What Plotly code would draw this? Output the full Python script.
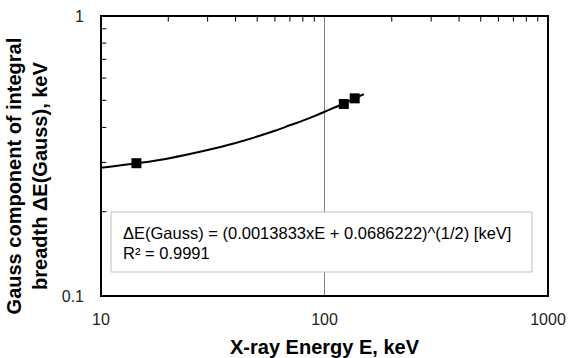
import plotly.graph_objects as go

# Measured points
energy = [14.4, 122.0, 136.5]
delta_e = [0.298, 0.485, 0.508]

# Trend curve
fit_x = [10, 15, 20, 30, 40, 50, 60, 70, 80, 90, 100, 120, 140, 150]
fit_y = [0.287, 0.299, 0.310, 0.332, 0.352, 0.371, 0.389, 0.407, 0.423, 0.439, 0.455, 0.484, 0.512, 0.526]

x_major = [10, 100, 1000]
x_minor = [20, 30, 40, 50, 60, 70, 80, 90, 200, 300, 400, 500, 600, 700, 800, 900]
y_major = [0.1, 1]
y_minor = [0.2, 0.3, 0.4, 0.5, 0.6, 0.7, 0.8, 0.9]

eq_line1 = "ΔE(Gauss) = (0.0013833xE + 0.0686222)^(1/2) [keV]"
eq_line2 = "R² = 0.9991"
y_title = "<b>Gauss component of integral<br>breadth ΔE(Gauss), keV</b>"
x_title = "<b>X-ray Energy E, keV</b>"

fig = go.Figure()
fig.add_trace(go.Scatter(x=fit_x, y=fit_y, mode="lines",
                         line=dict(color="black", width=2, shape="spline"),
                         showlegend=False, hoverinfo="skip"))
fig.add_trace(go.Scatter(x=energy, y=delta_e, mode="markers",
                         marker=dict(symbol="square", size=10, color="black"),
                         showlegend=False))

font = "Liberation Sans, Arial, sans-serif"

shapes = []
# minor tick marks along the top edge (inside)
for v in x_minor:
    shapes.append(dict(type="line", xref="x", yref="y domain", x0=v, x1=v, y0=1.0, y1=0.98,
                       line=dict(color="#000000", width=1), layer="above"))
# minor tick marks along the left edge (inside)
for v in y_minor:
    shapes.append(dict(type="line", xref="x domain", yref="y", x0=0.0, x1=0.012, y0=v, y1=v,
                       line=dict(color="#000000", width=1), layer="above"))
shapes.append(dict(type="rect", xref="paper", yref="paper", x0=0, x1=1, y0=0, y1=1,
                   line=dict(color="black", width=2)))
shapes.append(dict(type="rect", xref="paper", yref="paper", x0=0.0224, x1=0.964, y0=0.0857, y1=0.30,
                   line=dict(color="#bfbfbf", width=1), fillcolor="white", layer="above"))

fig.update_layout(
    width=569, height=358,
    margin=dict(l=101, r=21, t=16, b=62),
    paper_bgcolor="white", plot_bgcolor="white",
    font=dict(family=font, color="black", size=16),
    xaxis=dict(type="log", range=[1, 3], tickvals=x_major, ticktext=[str(v) for v in x_major],
               showgrid=True, gridcolor="#808080", gridwidth=1, ticks="", zeroline=False,
               showline=False, tickfont=dict(size=16, color="#222"), ticklabelstandoff=12,
               automargin=False,
               title=dict(text=x_title, font=dict(size=20), standoff=13)),
    yaxis=dict(type="log", range=[-1, 0], tickvals=y_major, ticktext=["0.1", "1"],
               showgrid=False, ticks="", zeroline=False, showline=False, automargin=False,
               tickfont=dict(size=16, color="#222"), ticklabelstandoff=16),
    shapes=shapes,
    annotations=[
        dict(text=y_title, xref="paper", yref="paper", x=-0.166, y=0.43, xanchor="center",
             yanchor="middle", align="center", textangle=-90, showarrow=False,
             font=dict(size=20, color="black", family=font)),
        dict(text=eq_line1, xref="paper", yref="paper", x=0.045, y=0.225, xanchor="left",
             yanchor="middle", align="left", showarrow=False,
             font=dict(size=16.5, color="black", family=font)),
        dict(text=eq_line2, xref="paper", yref="paper", x=0.045, y=0.155, xanchor="left",
             yanchor="middle", align="left", showarrow=False,
             font=dict(size=16.5, color="black", family=font)),
    ],
)

fig.write_html("out.html")
